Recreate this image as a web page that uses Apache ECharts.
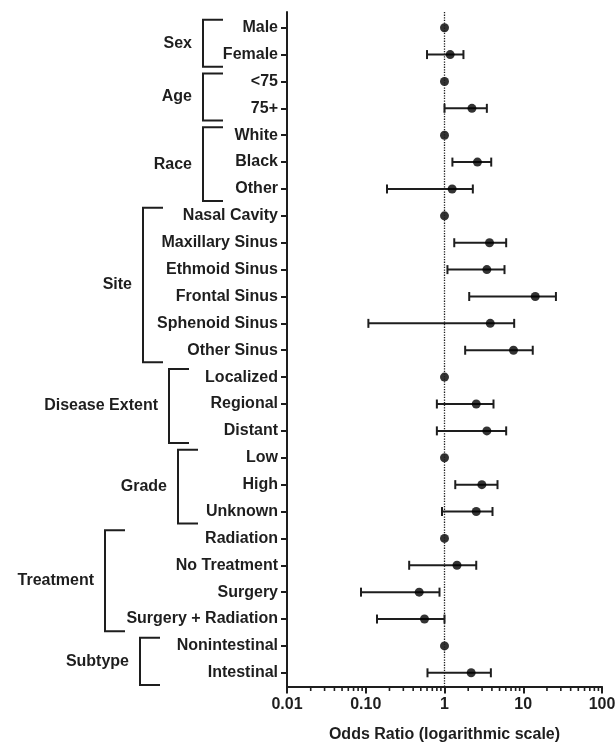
<!DOCTYPE html>
<html>
<head>
<meta charset="utf-8">
<script src="https://cdn.jsdelivr.net/npm/echarts@6/dist/echarts.min.js"></script>
<style>
  html, body { margin: 0; padding: 0; background: #fff; }
  #chart { width: 616px; height: 742px; }
</style>
</head>
<body>
<div id="chart"></div>
<script>
// Odds ratios with 95% confidence intervals, one row per category
const categories = ['Male', 'Female', '<75', '75+', 'White', 'Black', 'Other',
  'Nasal Cavity', 'Maxillary Sinus', 'Ethmoid Sinus', 'Frontal Sinus', 'Sphenoid Sinus', 'Other Sinus',
  'Localized', 'Regional', 'Distant', 'Low', 'High', 'Unknown',
  'Radiation', 'No Treatment', 'Surgery', 'Surgery + Radiation', 'Nonintestinal', 'Intestinal'];
const oddsRatio = [1, 1.18, 1, 2.23, 1, 2.62, 1.25,
  1, 3.73, 3.45, 14.2, 3.81, 7.52,
  1, 2.53, 3.45, 1, 2.98, 2.53,
  1, 1.44, 0.477, 0.557, 1, 2.18];
const ciLow = [null, 0.60, null, 1.0, null, 1.26, 0.186,
  null, 1.33, 1.09, 2.06, 0.108, 1.83,
  null, 0.80, 0.80, null, 1.37, 0.93,
  null, 0.356, 0.087, 0.139, null, 0.608];
const ciHigh = [null, 1.74, null, 3.45, null, 3.92, 2.29,
  null, 6.07, 5.78, 26.0, 7.67, 13.2,
  null, 4.19, 6.07, null, 4.71, 4.07,
  null, 2.53, 0.864, 1.0, null, 3.88];

// Variable groups: name and the first/last category row they cover
const groupNames = ['Sex', 'Age', 'Race', 'Site', 'Disease Extent', 'Grade', 'Treatment', 'Subtype'];
const groupFirst = [0, 2, 4, 7, 13, 16, 19, 23];
const groupLast = [1, 3, 6, 12, 15, 18, 22, 24];

// Axis tick values and labels
const xTickValues = [0.01, 0.1, 1, 10, 100];
const xTickLabels = ['0.01', '0.10', '1', '10', '100'];

// ---- layout / style ----
const FONT = '"Liberation Sans", Arial, Helvetica, sans-serif';
const INK = '#1e1e1e';
const Y_MIN = -0.584, Y_MAX = 24.51;
const bracketX = [203, 203, 203, 143, 169, 178, 105, 140];  // bracket spine, px
const BRACKET_ARM = 20;
const BRACKET_TOP_PAD = 0.3;     // in row units
const BRACKET_BOTTOM_PAD = 0.45;

const rowIdx = categories.map((_, i) => i);
const minorTicks = [];
[0.01, 0.1, 1, 10].forEach(d => { for (let k = 2; k <= 9; k++) minorTicks.push(+(d * k).toPrecision(3)); });

const pointData = oddsRatio.map((v, i) => [v, i]);
const errData = [];
oddsRatio.forEach((v, i) => { if (ciLow[i] != null) errData.push([ciLow[i], ciHigh[i], i]); });
const groupData = groupNames.map((n, g) => [1, groupFirst[g] - BRACKET_TOP_PAD, groupLast[g] + BRACKET_BOTTOM_PAD, g]);

const chart = echarts.init(document.getElementById('chart'));
chart.setOption({
  animation: false,
  backgroundColor: '#fff',
  grid: { left: 287, right: 14, top: 12, bottom: 55.5, containLabel: false, outerBoundsMode: 'none' },
  xAxis: {
    type: 'log', logBase: 10, min: 0.01, max: 100,
    name: 'Odds Ratio (logarithmic scale)',
    nameLocation: 'middle', nameGap: 40,
    nameTextStyle: { fontFamily: FONT, fontWeight: 'bold', fontSize: 16, color: INK },
    axisLine: { show: true, onZero: false, lineStyle: { color: INK, width: 2 } },
    axisTick: { show: true, length: 7, lineStyle: { color: INK, width: 2 }, customValues: xTickValues },
    axisLabel: {
      fontFamily: FONT, fontWeight: 'bold', fontSize: 16, color: INK, margin: 10,
      customValues: xTickValues,
      formatter: v => xTickLabels[xTickValues.findIndex(t => Math.abs(Math.log10(t) - Math.log10(v)) < 1e-6)]
    },
    splitLine: { show: false }
  },
  yAxis: {
    type: 'value', inverse: true, min: Y_MIN, max: Y_MAX,
    axisLine: { show: true, lineStyle: { color: INK, width: 2 } },
    axisTick: { show: true, length: 6, lineStyle: { color: INK, width: 2 }, customValues: rowIdx },
    axisLabel: {
      fontFamily: FONT, fontWeight: 'bold', fontSize: 16, color: INK, margin: 9,
      customValues: rowIdx,
      formatter: v => categories[Math.round(v)]
    },
    splitLine: { show: false }
  },
  series: [
    {
      // confidence interval whiskers
      type: 'custom',
      data: errData,
      encode: { x: [0, 1], y: 2 },
      renderItem: (params, api) => {
        const a = api.coord([api.value(0), api.value(2)]);
        const b = api.coord([api.value(1), api.value(2)]);
        const h = 4.5;
        const st = { stroke: INK, lineWidth: 2 };
        return {
          type: 'group',
          children: [
            { type: 'line', shape: { x1: a[0], y1: a[1], x2: b[0], y2: b[1] }, style: st },
            { type: 'line', shape: { x1: a[0], y1: a[1] - h, x2: a[0], y2: a[1] + h }, style: st },
            { type: 'line', shape: { x1: b[0], y1: b[1] - h, x2: b[0], y2: b[1] + h }, style: st }
          ]
        };
      },
      z: 3
    },
    {
      // point estimates
      type: 'scatter',
      data: pointData,
      symbol: 'circle', symbolSize: 9,
      itemStyle: { color: '#000' },
      z: 4,
      markLine: {
        silent: true, symbol: 'none',
        label: { show: false },
        lineStyle: { type: 'dotted', color: INK, width: 1.3 },
        data: [{ xAxis: 1 }]
      }
    },
    {
      // minor ticks of the logarithmic axis
      type: 'custom',
      data: minorTicks.map(v => [v, Y_MAX]),
      encode: { x: 0, y: 1 },
      clip: false,
      silent: true,
      renderItem: (params, api) => {
        const p = api.coord([api.value(0), api.value(1)]);
        return { type: 'line', shape: { x1: p[0], y1: p[1], x2: p[0], y2: p[1] + 4.5 }, style: { stroke: INK, lineWidth: 1.6 } };
      }
    },
    {
      // group brackets and group names
      type: 'custom',
      data: groupData,
      encode: { x: 0, y: [1, 2] },
      clip: false,
      silent: true,
      renderItem: (params, api) => {
        const g = api.value(3);
        const top = api.coord([1, api.value(1)])[1];
        const bot = api.coord([1, api.value(2)])[1];
        const bx = bracketX[g];
        return {
          type: 'group',
          children: [
            { type: 'polyline',
              shape: { points: [[bx + BRACKET_ARM, top], [bx, top], [bx, bot], [bx + BRACKET_ARM, bot]] },
              style: { stroke: INK, lineWidth: 2, fill: null } },
            { type: 'text',
              style: { x: bx - 11, y: (top + bot) / 2, text: groupNames[g], align: 'right', verticalAlign: 'middle',
                       font: 'bold 16px ' + FONT, fill: INK } }
          ]
        };
      }
    }
  ]
});
</script>
</body>
</html>
